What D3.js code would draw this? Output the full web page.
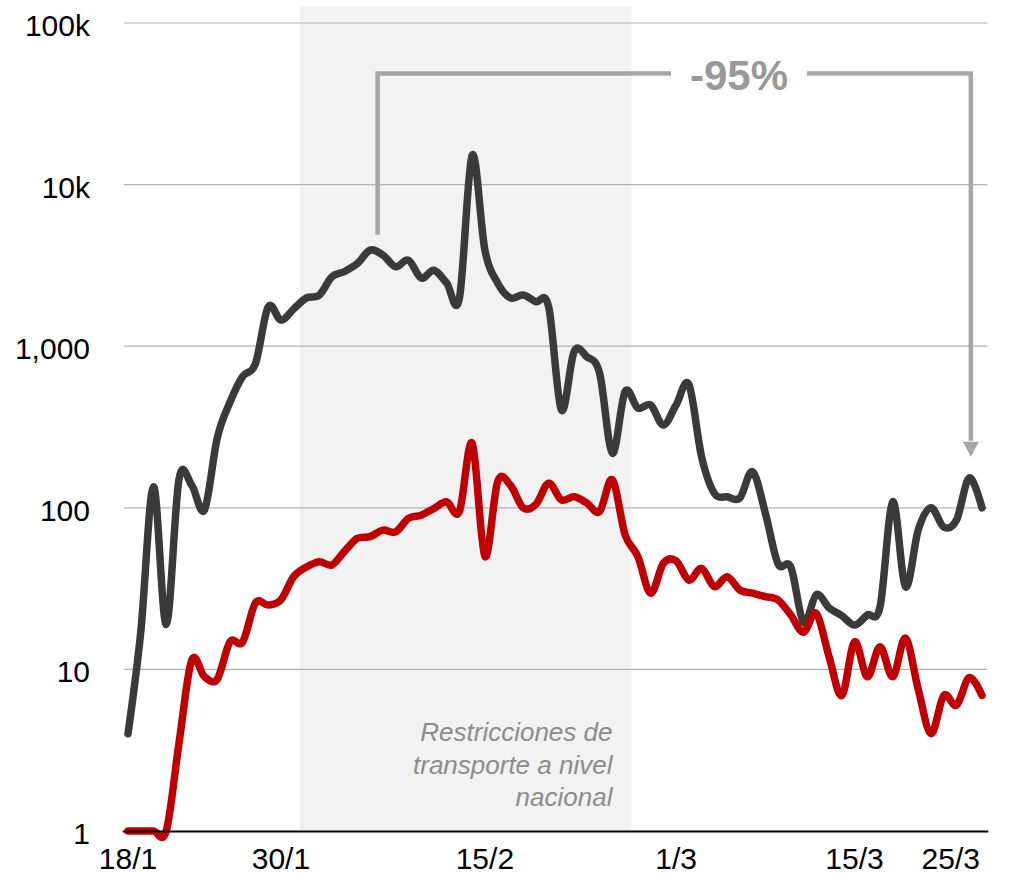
<!DOCTYPE html>
<html>
<head>
<meta charset="utf-8">
<script src="https://cdn.jsdelivr.net/npm/d3@7"></script>
<style>
  body { margin: 0; background: #fff; }
  svg text { font-family: "Liberation Sans", Arial, sans-serif; }
</style>
</head>
<body>
<div id="chart"></div>
<script>
// daily values, 18/1 to 25/3 (2020)
const startDate = "18/1/2020";
const endDate = "25/3/2020";

const darkSeries = [4, 17, 135, 19, 150, 138, 97, 270, 450, 650,
    780, 1750, 1450, 1700, 1990, 2070, 2690, 2900, 3250, 3930,
    3660, 3100, 3410, 2640, 2950, 2460, 1980, 15200, 3940, 2460,
    1990, 2075, 1885, 1760, 403, 925, 860, 680, 218, 523,
    414, 433, 325, 433, 580, 207, 123, 117, 115, 167,
    93, 45, 43, 19.5, 29, 24, 21.5, 18.8, 21.7, 24.4,
    109, 32.5, 73, 100, 76, 84, 153, 100];

const redSeries = [1, 1, 1, 1, 3.5, 11.4, 9.0, 8.7, 14.8, 14.8,
    25.8, 25, 27, 37.5, 43, 46.4, 44.3, 54, 64.7, 66.3,
    72.8, 71, 86, 90, 99, 109, 95, 251, 50, 145,
    138, 100, 105, 142, 112, 117, 107, 95, 149, 68,
    50, 29.6, 45.3, 47, 35.7, 42.2, 32.5, 37.5, 31, 29.6,
    28.2, 26.9, 21.7, 17, 22.2, 12, 6.9, 14.8, 9.0, 13.8,
    9.0, 15.6, 7.5, 4.0, 6.9, 6.0, 8.9, 6.9];

const yTicks = [1, 10, 100, 1000, 10000, 100000];
const yTickLabels = ["1", "10", "100", "1,000", "10k", "100k"];
const xTickLabels = ["18/1", "30/1", "15/2", "1/3", "15/3", "25/3"];

const shadeFrom = "1/2";
const shadeTo = "26/2";
const shadeText = ["Restricciones de", "transporte a nivel", "nacional"];

const dropText = "-95%";
const dropFrom = "6/2";   // peak
const dropTo = "24/3";

function main() {
    const width = 1014, height = 876;
    const parse = d3.timeParse("%d/%m/%Y");
    const parseShort = s => parse(s + "/2020");

    const dates = d3.timeDay.range(parse(startDate), d3.timeDay.offset(parse(endDate), 1));

    const svg = d3.select("#chart")
        .append("svg")
        .attr("width", width)
        .attr("height", height);

    const x = d3.scaleTime()
        .domain([parse(startDate), parse(endDate)])
        .range([128, 982]);

    const y = d3.scaleLog()
        .domain([1, 100000])
        .range([831, 23]);

    const halfDay = d => d3.timeHour.offset(d, 12);
    const minusHalf = d => d3.timeHour.offset(d, -12);

    // shaded period
    const sx0 = x(minusHalf(parseShort(shadeFrom)));
    const sx1 = x(halfDay(parseShort(shadeTo)));
    svg.append("rect")
        .attr("x", sx0)
        .attr("y", 6)
        .attr("width", sx1 - sx0)
        .attr("height", y(1) - 6)
        .attr("fill", "#f2f2f2");

    // gridlines
    const gx0 = x(d3.timeHour.offset(parse(startDate), -8));
    const gx1 = x(d3.timeHour.offset(parse(endDate), 10));
    svg.append("g")
        .selectAll("line")
        .data(yTicks.slice(1))
        .join("line")
        .attr("x1", gx0)
        .attr("x2", gx1)
        .attr("y1", d => y(d))
        .attr("y2", d => y(d))
        .attr("stroke", "#b3b3b3")
        .attr("stroke-width", 1.2);

    // y labels
    svg.append("g")
        .selectAll("text")
        .data(yTicks)
        .join("text")
        .attr("x", 90)
        .attr("y", d => y(d) + 13)
        .attr("text-anchor", "end")
        .attr("font-size", "30px")
        .attr("fill", "#000")
        .text((d, i) => yTickLabels[i]);

    // shaded period label
    const st = svg.append("text")
        .attr("text-anchor", "end")
        .attr("font-size", "26px")
        .attr("font-style", "italic")
        .attr("fill", "#8c8c8c");
    shadeText.forEach((t, i) => {
        st.append("tspan")
            .attr("x", sx1 - 19)
            .attr("y", 741 + i * 32.5)
            .text(t);
    });

    // lines
    const line = d3.line()
        .x((d, i) => x(dates[i]))
        .y(d => y(d))
        .curve(d3.curveCardinal.tension(0));

    svg.append("path")
        .datum(darkSeries)
        .attr("d", line)
        .attr("fill", "none")
        .attr("stroke", "#3a3a3a")
        .attr("stroke-width", 7.5)
        .attr("stroke-linejoin", "round")
        .attr("stroke-linecap", "round");

    svg.append("path")
        .datum(redSeries)
        .attr("d", line)
        .attr("fill", "none")
        .attr("stroke", "#c00000")
        .attr("stroke-width", 7.5)
        .attr("stroke-linejoin", "round")
        .attr("stroke-linecap", "round");

    // bottom axis line
    svg.append("line")
        .attr("x1", gx0 - 1)
        .attr("x2", gx1 + 1)
        .attr("y1", y(1) + 0.5)
        .attr("y2", y(1) + 0.5)
        .attr("stroke", "#000")
        .attr("stroke-width", 2);

    // x labels
    svg.append("g")
        .selectAll("text")
        .data(xTickLabels)
        .join("text")
        .attr("x", (d, i) => i === xTickLabels.length - 1 ? x(parseShort(d)) - 2 : x(parseShort(d)))
        .attr("y", 869)
        .attr("text-anchor", (d, i) => i === xTickLabels.length - 1 ? "end" : "middle")
        .attr("font-size", "30px")
        .attr("fill", "#000")
        .text(d => d);

    // -95% bracket
    const bx0 = x(d3.timeHour.offset(parseShort(dropFrom), 14));
    const bx1 = x(d3.timeHour.offset(parseShort(dropTo), 3));
    const by = y(48700);
    const tx = 739;
    const grey = "#a6a6a6";

    svg.append("path")
        .attr("d", `M${bx0},${y(4900)}V${by}H${tx - 68}`)
        .attr("fill", "none")
        .attr("stroke", grey)
        .attr("stroke-width", 4.5);

    svg.append("path")
        .attr("d", `M${tx + 68},${by}H${bx1}V${y(260)}`)
        .attr("fill", "none")
        .attr("stroke", grey)
        .attr("stroke-width", 4.5);

    const tip = y(207);
    svg.append("path")
        .attr("d", `M${bx1 - 8},${tip - 15}L${bx1 + 8},${tip - 15}L${bx1},${tip}Z`)
        .attr("fill", grey);

    svg.append("text")
        .attr("x", tx)
        .attr("y", 90)
        .attr("text-anchor", "middle")
        .attr("font-size", "42px")
        .attr("font-weight", "bold")
        .attr("fill", "#999999")
        .text(dropText);
}

main()
</script>
</body>
</html>
